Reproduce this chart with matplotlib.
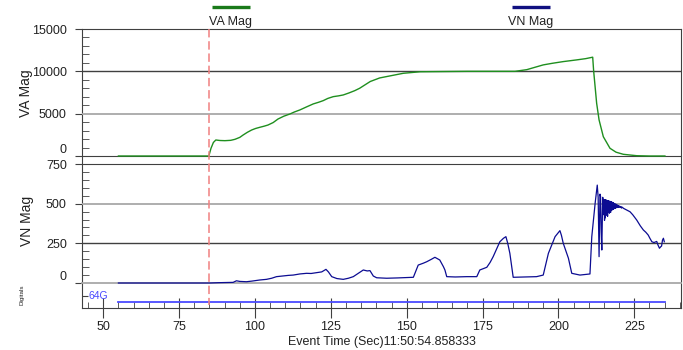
import matplotlib
matplotlib.use("Agg")
import matplotlib.pyplot as plt
import matplotlib.transforms as mtransforms
from matplotlib.lines import Line2D
from matplotlib.ticker import MultipleLocator

plt.rcParams['font.family'] = ['Liberation Sans', 'DejaVu Sans']

# ---- data ----
va_time = [55, 84.8, 85.5, 86.3, 87.1, 88.5, 90.1, 92, 93.4, 95, 96.1, 97.5, 98.9,
           100.2, 101.6, 103, 104.3, 106, 107.6, 109.5, 111.5, 113, 114.8, 117,
           119.2, 121, 122.5, 124, 125.8, 127.5, 129.1, 131, 132.9, 134.5, 136.2,
           138, 141.1, 144.5, 148.9, 152, 154.4, 170, 185.7, 189.6, 192, 195,
           198, 201.6, 206, 209, 211.3, 211.6, 212.6, 213.4, 214.8, 217, 219,
           221.4, 225.8, 230, 235.1]
va_mag = [0, 0, 900, 1600, 1890, 1830, 1810, 1850, 1970, 2200, 2480, 2800, 3070,
          3250, 3390, 3520, 3660, 3950, 4370, 4700, 4960, 5200, 5440, 5800,
          6150, 6350, 6540, 6800, 7010, 7100, 7210, 7450, 7720, 8000, 8390,
          8800, 9220, 9460, 9770, 9870, 9950, 10000, 10000, 10200, 10450, 10760,
          10950, 11150, 11350, 11500, 11670, 10100, 6230, 4260, 2280, 910, 450,
          200, 35, 0, 0]

vn_time = [55, 85, 88, 91, 92.8, 93.9, 95, 97.2, 99, 101.6, 103.8, 105.5, 107.1,
           109, 111, 112.6, 114.8, 117, 118.5, 120.3, 122, 123.4, 124.2, 125.3,
           127, 129.1, 130.8, 132.4, 134, 135.7, 137, 137.9, 139, 140.1, 143.4,
           147, 152.2, 153.8, 155.5, 156.6, 158, 159.3, 160.4, 160.9, 162.1,
           162.6, 163.2, 166, 169.8, 173.1, 174.1, 176.4, 177.5, 178.5, 180.7,
           181.9, 182.7, 183.3, 184, 185.1, 189, 192.8, 195, 196.7, 198.9, 200.5,
           201, 201.6, 202.5, 203.3, 204.4, 207.1, 210.4, 211, 212.1, 212.8,
           213.1, 213.4, 213.7, 213.9, 214.1, 214.3, 214.6, 214.8,
           215.0, 215.1, 215.2, 215.3, 215.4, 215.5, 215.6, 215.7, 215.8, 215.9,
           216.0, 216.1, 216.2, 216.3, 216.4, 216.5, 216.6, 216.7, 216.8, 216.9,
           217.0, 217.1, 217.2, 217.3, 217.4, 217.5, 217.6, 217.7, 217.8, 217.9,
           218.0, 218.1, 218.2, 218.3, 218.4, 218.5, 218.6, 218.7, 218.8, 218.9,
           219.0, 219.1, 219.2, 219.3, 219.4, 219.5, 219.6, 219.7, 219.8, 219.9,
           220.0, 220.2, 220.4, 220.6, 220.8, 221.0,
           221.5, 222.5, 223.6, 224.5, 225.8, 227, 228, 228.8,
           229.6, 230.2, 230.8, 231.5, 232.4, 232.8, 233.3, 233.7, 234, 234.3,
           234.6, 234.9]
vn_mag = [0, 0, 2, 3, 4, 14, 10, 8, 12, 19, 23, 30, 40,
          44, 48, 50, 57, 61, 60, 65, 70, 86, 70, 40,
          28, 23, 30, 40, 60, 82, 76, 78, 44, 33, 30,
          32, 36, 113, 125, 134, 148, 162, 150, 145, 103,
          82, 40, 38, 40, 40, 82, 99, 130, 166, 260,
          282, 292, 250, 187, 36, 38, 40, 50, 187, 292, 330,
          300, 250, 200, 156, 61, 50, 57, 292, 502, 617,
          540, 166, 560, 544, 320, 208, 540, 512,
          430, 522, 395, 526, 410, 520, 425, 524, 430, 518,
          440, 520, 420, 516, 445, 518, 450, 514, 440, 516,
          455, 512, 445, 510, 458, 512, 460, 506, 462, 508,
          465, 504, 466, 502, 470, 500, 470, 498, 472, 496,
          474, 495, 476, 492, 476, 490, 478, 488, 478, 486,
          478, 484, 476, 482, 472, 478,
          470, 460, 449, 430, 397, 360, 334, 320,
          302, 280, 260, 255, 262, 240, 219, 228, 233, 270,
          282, 260]

dig_time = [55, 235]
dig_state = [1, 1]
dig_name = '64G'
trigger_time = 85

x_ticks = [50, 75, 100, 125, 150, 175, 200, 225]
va_ticks = [0, 5000, 10000, 15000]
vn_ticks = [0, 250, 500, 750]

# ---- styling ----
dark = '#404040'
light = '#a8a8a8'
green = '#1f8f1f'
navy = '#0c0c92'
txt = '#222222'

W, H = 683, 350
fig = plt.figure(figsize=(W / 100, H / 100), dpi=100)


def box(left, top, right, bottom):
    return [left / W, 1 - bottom / H, (right - left) / W, (bottom - top) / H]


bg = fig.add_axes(box(82, 29, 681, 308))
bg.set_facecolor('none')
bg.set_xticks([])
bg.set_yticks([])
for side in ['top', 'bottom']:
    bg.spines[side].set_visible(False)
for side in ['left', 'right']:
    bg.spines[side].set_color(dark)

ax1 = fig.add_axes(box(82, 29, 681, 156))
ax2 = fig.add_axes(box(82, 164, 681, 283))
ax3 = fig.add_axes(box(82, 283, 681, 308))

for ax in (ax1, ax2, ax3):
    ax.set_facecolor('none')
    ax.set_xlim(43, 240.4)
    for side in ['left', 'right']:
        ax.spines[side].set_visible(False)

# VA panel
ax1.plot(va_time, va_mag, color=green, lw=1, clip_on=False, zorder=4)
ax1.set_ylim(0, 15000)
ax1.set_yticks(va_ticks, labels=[str(v) for v in va_ticks])
ax1.yaxis.set_minor_locator(MultipleLocator(1000))
ax1.axhline(10000, color=dark, lw=1)
ax1.axhline(5000, color=light, lw=1.3)
ax1.spines['top'].set_color(dark)
ax1.spines['bottom'].set_color(dark)

# VN panel
ax2.plot(vn_time, vn_mag, color=navy, lw=0.9, clip_on=False, zorder=4)
ax2.set_ylim(0, 750)
ax2.set_yticks(vn_ticks, labels=[str(v) for v in vn_ticks])
ax2.yaxis.set_minor_locator(MultipleLocator(50))
ax2.axhline(500, color=light, lw=1.3)
ax2.axhline(250, color=dark, lw=1)
ax2.spines['top'].set_color(dark)
ax2.spines['bottom'].set_color(light)
ax2.spines['bottom'].set_linewidth(1.3)

for ax in (ax1, ax2):
    ax.tick_params(axis='x', which='both', bottom=False, labelbottom=False)
    ax.tick_params(axis='y', which='major', direction='out', length=5,
                   color=dark, labelsize=9, labelcolor=txt, pad=6)
    ax.tick_params(axis='y', which='minor', direction='in', length=5,
                   color=dark)
    ax.get_yticklabels()[0].set_verticalalignment('bottom')

# digitals panel
ax3.plot(dig_time, dig_state, color='#4a4aff', lw=1.3)
ax3.set_ylim(0, 4.4)
ax3.set_yticks([2.15])
ax3.set_yticklabels([])
ax3.tick_params(axis='y', direction='in', length=4, color=dark)
ax3.text(45, 2.15, dig_name, color='#4a4aff', fontsize=7.5, va='center', ha='left')
ax3.spines['top'].set_visible(False)
ax3.spines['bottom'].set_color(dark)
ax3.set_xticks(x_ticks)
ax3.xaxis.set_minor_locator(MultipleLocator(5))
ax3.tick_params(axis='x', which='major', direction='inout', length=14,
                color=dark, labelsize=9, labelcolor=txt, pad=2)
ax3.tick_params(axis='x', which='minor', direction='in', length=4.3,
                color=dark)

# trigger marker across all panels
trans = mtransforms.blended_transform_factory(ax1.transData, fig.transFigure)
fig.add_artist(Line2D([trigger_time, trigger_time], [1 - 29 / H, 1 - 305 / H],
                      transform=trans, color='#f08080', lw=1.1,
                      dashes=(5.5, 2.5)))

# legend at the top
fig.add_artist(Line2D([212 / W, 250 / W], [1 - 7 / H] * 2, transform=fig.transFigure,
                      color='#1a7a1a', lw=2.4, solid_capstyle='butt'))
fig.text(230.5 / W, 1 - 22 / H, 'VA Mag', ha='center', va='center', fontsize=9, color=txt)
fig.add_artist(Line2D([512 / W, 550 / W], [1 - 7 / H] * 2, transform=fig.transFigure,
                      color='#101080', lw=2.4, solid_capstyle='butt'))
fig.text(531 / W, 1 - 22 / H, 'VN Mag', ha='center', va='center', fontsize=9, color=txt)

# axis labels
fig.text(26 / W, 1 - 93 / H, 'VA Mag', rotation=90, ha='center', va='center',
         fontsize=10, color=txt)
fig.text(27 / W, 1 - 221 / H, 'VN Mag', rotation=90, ha='center', va='center',
         fontsize=10, color=txt)
fig.text(22 / W, 1 - 295 / H, 'Digitals', rotation=90, ha='center', va='center',
         fontsize=4.5, color=txt)
fig.text(381.5 / W, 1 - 342.5 / H, 'Event Time (Sec)11:50:54.858333',
         ha='center', va='center', fontsize=9, color=txt)

fig.savefig('out.png', dpi=100)
